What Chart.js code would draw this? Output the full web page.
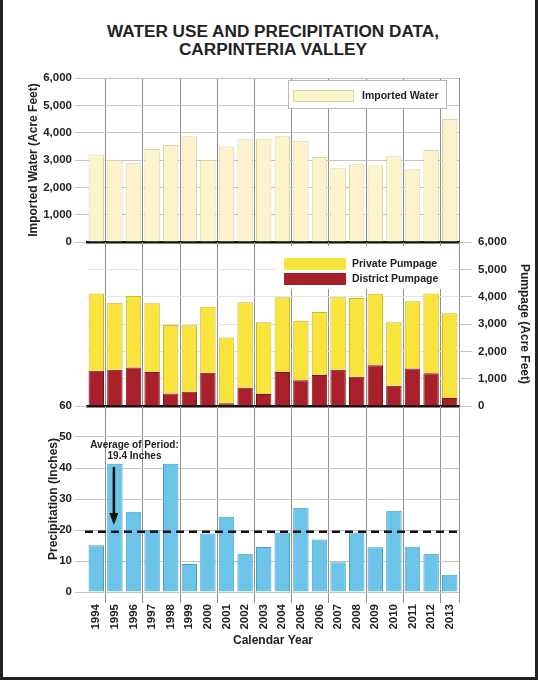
<!DOCTYPE html>
<html>
<head>
<meta charset="utf-8">
<script src="https://cdn.jsdelivr.net/npm/chart.js@4.4.1/dist/chart.umd.min.js"></script>
<style>
body{margin:0;background:#fff;}
#page{position:relative;width:538px;height:680px;overflow:hidden;font-family:"Liberation Sans",Arial,sans-serif;}
.box{position:absolute;left:0;width:538px;}
#title{position:absolute;left:0;top:22px;width:538px;padding-left:8px;box-sizing:border-box;text-align:center;font-weight:bold;font-size:17.2px;line-height:18px;color:#222;}
#frame{position:absolute;left:0;top:0;width:538px;height:680px;box-sizing:border-box;border-left:3px solid #222;border-right:3px solid #222;border-bottom:3px solid #222;pointer-events:none;}
</style>
</head>
<body>
<div id="page">
<div id="title">WATER USE AND PRECIPITATION DATA,<br>CARPINTERIA VALLEY</div>
<div class="box" style="top:60px;height:192px"><canvas id="waterChart"></canvas></div>
<div class="box" style="top:229px;height:190px"><canvas id="pumpChart"></canvas></div>
<div class="box" style="top:394px;height:286px"><canvas id="rainChart"></canvas></div>
<div id="frame"></div>
</div>
<script>
let years = ["1994","1995","1996","1997","1998","1999","2000","2001","2002","2003","2004","2005","2006","2007","2008","2009","2010","2011","2012","2013"]
let importedWater = [3200,3000,2900,3400,3550,3870,3000,3490,3760,3760,3870,3700,3110,2700,2840,2800,3140,2660,3370,4500]
let districtPumpage = [1290,1330,1410,1240,460,520,1220,100,670,440,1240,940,1130,1330,1070,1490,740,1370,1200,290]
let privatePumpage = [2830,2450,2610,2520,2500,2430,2410,2410,3130,2620,2740,2180,2310,2650,2880,2620,2320,2460,2920,3100]
let precipitation = [15.1,41.4,25.9,20.0,41.4,9.0,18.9,24.3,12.3,14.5,19.2,27.2,16.9,9.6,19.2,14.4,26.2,14.6,12.3,5.6]
let precipAverage = 19.4
let waterTicks = [0,1000,2000,3000,4000,5000,6000]
let precipTicks = [0,10,20,30,40,50,60]

let fontFamily = '"Liberation Sans", Arial, sans-serif'
Chart.defaults.font.family = fontFamily
Chart.defaults.font.weight = 'bold'
Chart.defaults.color = '#222'
Chart.defaults.animation = false
Chart.defaults.plugins.legend.display = false
Chart.defaults.plugins.tooltip.enabled = false

// vertical lines only between every second pair of years, plus the right edge
function vGrid(c){
return (c.index === undefined || c.index % 2 === 1) ? '#8f8f8f' : 'rgba(0,0,0,0)'
}
function setTicks(list){
return function(axis){ axis.ticks = list.map(v => ({value:v})) }
}
let tickFont = {size:11.5, weight:'bold'}
let titleFont = {size:12, weight:'bold'}

let legendFont = 'bold 10.5px ' + fontFamily

let importedLegend = {
id:'importedLegend',
afterDraw(chart){
let {ctx, chartArea:a} = chart
let ds = chart.data.datasets[0]
let x = a.left + 201, y = a.top + 2
ctx.save()
ctx.fillStyle = '#fff'
ctx.fillRect(x, y, 158, 28)
ctx.strokeStyle = '#b8b8b8'
ctx.lineWidth = 1
ctx.strokeRect(x + 0.5, y + 0.5, 158, 28)
ctx.fillStyle = ds.backgroundColor
ctx.fillRect(x + 5, y + 10, 61, 12)
ctx.strokeStyle = ds.borderColor
ctx.strokeRect(x + 5.5, y + 10.5, 60, 11)
ctx.fillStyle = '#222'
ctx.font = legendFont
ctx.textBaseline = 'middle'
ctx.fillText(ds.label, x + 74, y + 16)
ctx.restore()
}
}

let pumpLegend = {
id:'pumpLegend',
afterDraw(chart){
let {ctx, chartArea:a} = chart
let x = a.left + 190, y = a.top + 4
ctx.save()
ctx.fillStyle = '#fff'
ctx.fillRect(x, y, 173, 43)
let order = [chart.data.datasets[1], chart.data.datasets[0]]
order.forEach((ds, i) => {
ctx.fillStyle = ds.backgroundColor
ctx.fillRect(x + 7, y + 12 + i*15, 62, 12)
ctx.fillStyle = '#222'
ctx.font = legendFont
ctx.textBaseline = 'middle'
ctx.fillText(ds.label, x + 75, y + 18 + i*15)
})
ctx.restore()
}
}

let avgLine = {
id:'avgLine',
afterDatasetsDraw(chart){
let {ctx, chartArea:a, scales} = chart
let y = scales.y.getPixelForValue(precipAverage)
ctx.save()
ctx.strokeStyle = '#111'
ctx.lineWidth = 2.5
ctx.setLineDash([8,5])
ctx.beginPath()
ctx.moveTo(a.left - 2, y)
ctx.lineTo(a.right, y)
ctx.stroke()
ctx.setLineDash([])
// arrow from the note down to the average line
let ax = scales.x.getPixelForValue(1) - 1
let top = scales.y.getPixelForValue(40.3)
let tip = scales.y.getPixelForValue(21.6)
ctx.lineWidth = 2.5
ctx.beginPath()
ctx.moveTo(ax, top)
ctx.lineTo(ax, tip - 10)
ctx.stroke()
ctx.fillStyle = '#111'
ctx.beginPath()
ctx.moveTo(ax - 4.5, tip - 12)
ctx.lineTo(ax + 4.5, tip - 12)
ctx.lineTo(ax, tip)
ctx.closePath()
ctx.fill()
let tx = scales.x.getPixelForValue(2) + 1
ctx.font = 'bold 10px ' + fontFamily
ctx.textAlign = 'center'
ctx.textBaseline = 'middle'
ctx.fillStyle = '#222'
ctx.fillText('Average of Period:', tx, scales.y.getPixelForValue(47.4))
ctx.fillText(precipAverage + ' Inches', tx, scales.y.getPixelForValue(43.9))
ctx.restore()
}
}

new Chart(document.getElementById('waterChart'), {
type:'bar',
data:{
labels:years,
datasets:[{
label:'Imported Water',
data:importedWater,
backgroundColor:'#fcf3cc',
borderColor:'#ddd3a4',
borderWidth:1,
barPercentage:0.83,
categoryPercentage:1
}]
},
options:{
responsive:true,
maintainAspectRatio:false,
layout:{padding:{top:18,bottom:10,left:0,right:79}},
scales:{
x:{
afterFit(axis){ axis.height = 0 },
ticks:{display:false},
grid:{color:vGrid,drawTicks:false},
border:{display:true,color:'#111',width:2.5}
},
y:{
min:waterTicks[0],
max:waterTicks[waterTicks.length-1],
afterBuildTicks:setTicks(waterTicks),
afterFit(axis){ axis.width = 87 },
ticks:{font:tickFont,padding:3},
grid:{color:'#c4c4c4',tickColor:'#c4c4c4',tickLength:12},
border:{display:false},
title:{display:true,text:'Imported Water (Acre Feet)',font:titleFont,padding:{top:26,bottom:0}}
}
}
},
plugins:[importedLegend]
})

new Chart(document.getElementById('pumpChart'), {
type:'bar',
data:{
labels:years,
datasets:[{
label:'District Pumpage',
data:districtPumpage,
backgroundColor:'#a8202a',
borderColor:'#7a1419',
borderWidth:1,
barPercentage:0.83,
categoryPercentage:1
},{
label:'Private Pumpage',
data:privatePumpage,
backgroundColor:'#f8e43c',
borderColor:'#cdb92c',
borderWidth:1,
barPercentage:0.83,
categoryPercentage:1
}]
},
options:{
responsive:true,
maintainAspectRatio:false,
layout:{padding:{top:13,bottom:13,left:87,right:0}},
scales:{
x:{
stacked:true,
afterFit(axis){ axis.height = 0 },
ticks:{display:false},
grid:{color:vGrid,drawTicks:false},
border:{display:true,color:'#111',width:2.5}
},
y:{
stacked:true,
position:'right',
min:waterTicks[0],
max:waterTicks[waterTicks.length-1],
afterBuildTicks:setTicks(waterTicks),
afterFit(axis){ axis.width = 79 },
ticks:{font:tickFont,padding:6},
grid:{
color:c => c.tick && c.tick.value === waterTicks[waterTicks.length-1] ? 'rgba(0,0,0,0)' : '#e3e3e3',
tickColor:'#c4c4c4',
tickLength:13
},
border:{display:false},
title:{display:true,text:'Pumpage (Acre Feet)',font:titleFont,padding:{top:6,bottom:0}}
}
}
},
plugins:[pumpLegend]
})

new Chart(document.getElementById('rainChart'), {
type:'bar',
data:{
labels:years,
datasets:[{
label:'Precipitation',
data:precipitation,
backgroundColor:'#6cc5e8',
borderColor:'#4a9fc4',
borderWidth:1,
barPercentage:0.83,
categoryPercentage:1
}]
},
options:{
responsive:true,
maintainAspectRatio:false,
layout:{padding:{top:12,bottom:28,left:0,right:79}},
scales:{
x:{
afterFit(axis){ axis.height = 60 },
ticks:{font:tickFont,autoSkip:false,minRotation:90,maxRotation:90,padding:1},
grid:{color:vGrid,tickColor:vGrid,tickLength:11},
border:{display:false},
title:{display:true,text:'Calendar Year',font:titleFont,padding:{top:0,bottom:4}}
},
y:{
min:precipTicks[0],
max:precipTicks[precipTicks.length-1],
afterBuildTicks:setTicks(precipTicks),
afterFit(axis){ axis.width = 87 },
ticks:{font:tickFont,padding:3},
grid:{
color:c => c.tick && c.tick.value === precipTicks[precipTicks.length-1] ? 'rgba(0,0,0,0)' : '#c4c4c4',
tickColor:'#c4c4c4',
tickLength:12
},
border:{display:false},
title:{display:true,text:'Precipitation (Inches)',font:titleFont,padding:{top:46,bottom:0}}
}
}
},
plugins:[avgLine]
})
</script>
</body>
</html>
